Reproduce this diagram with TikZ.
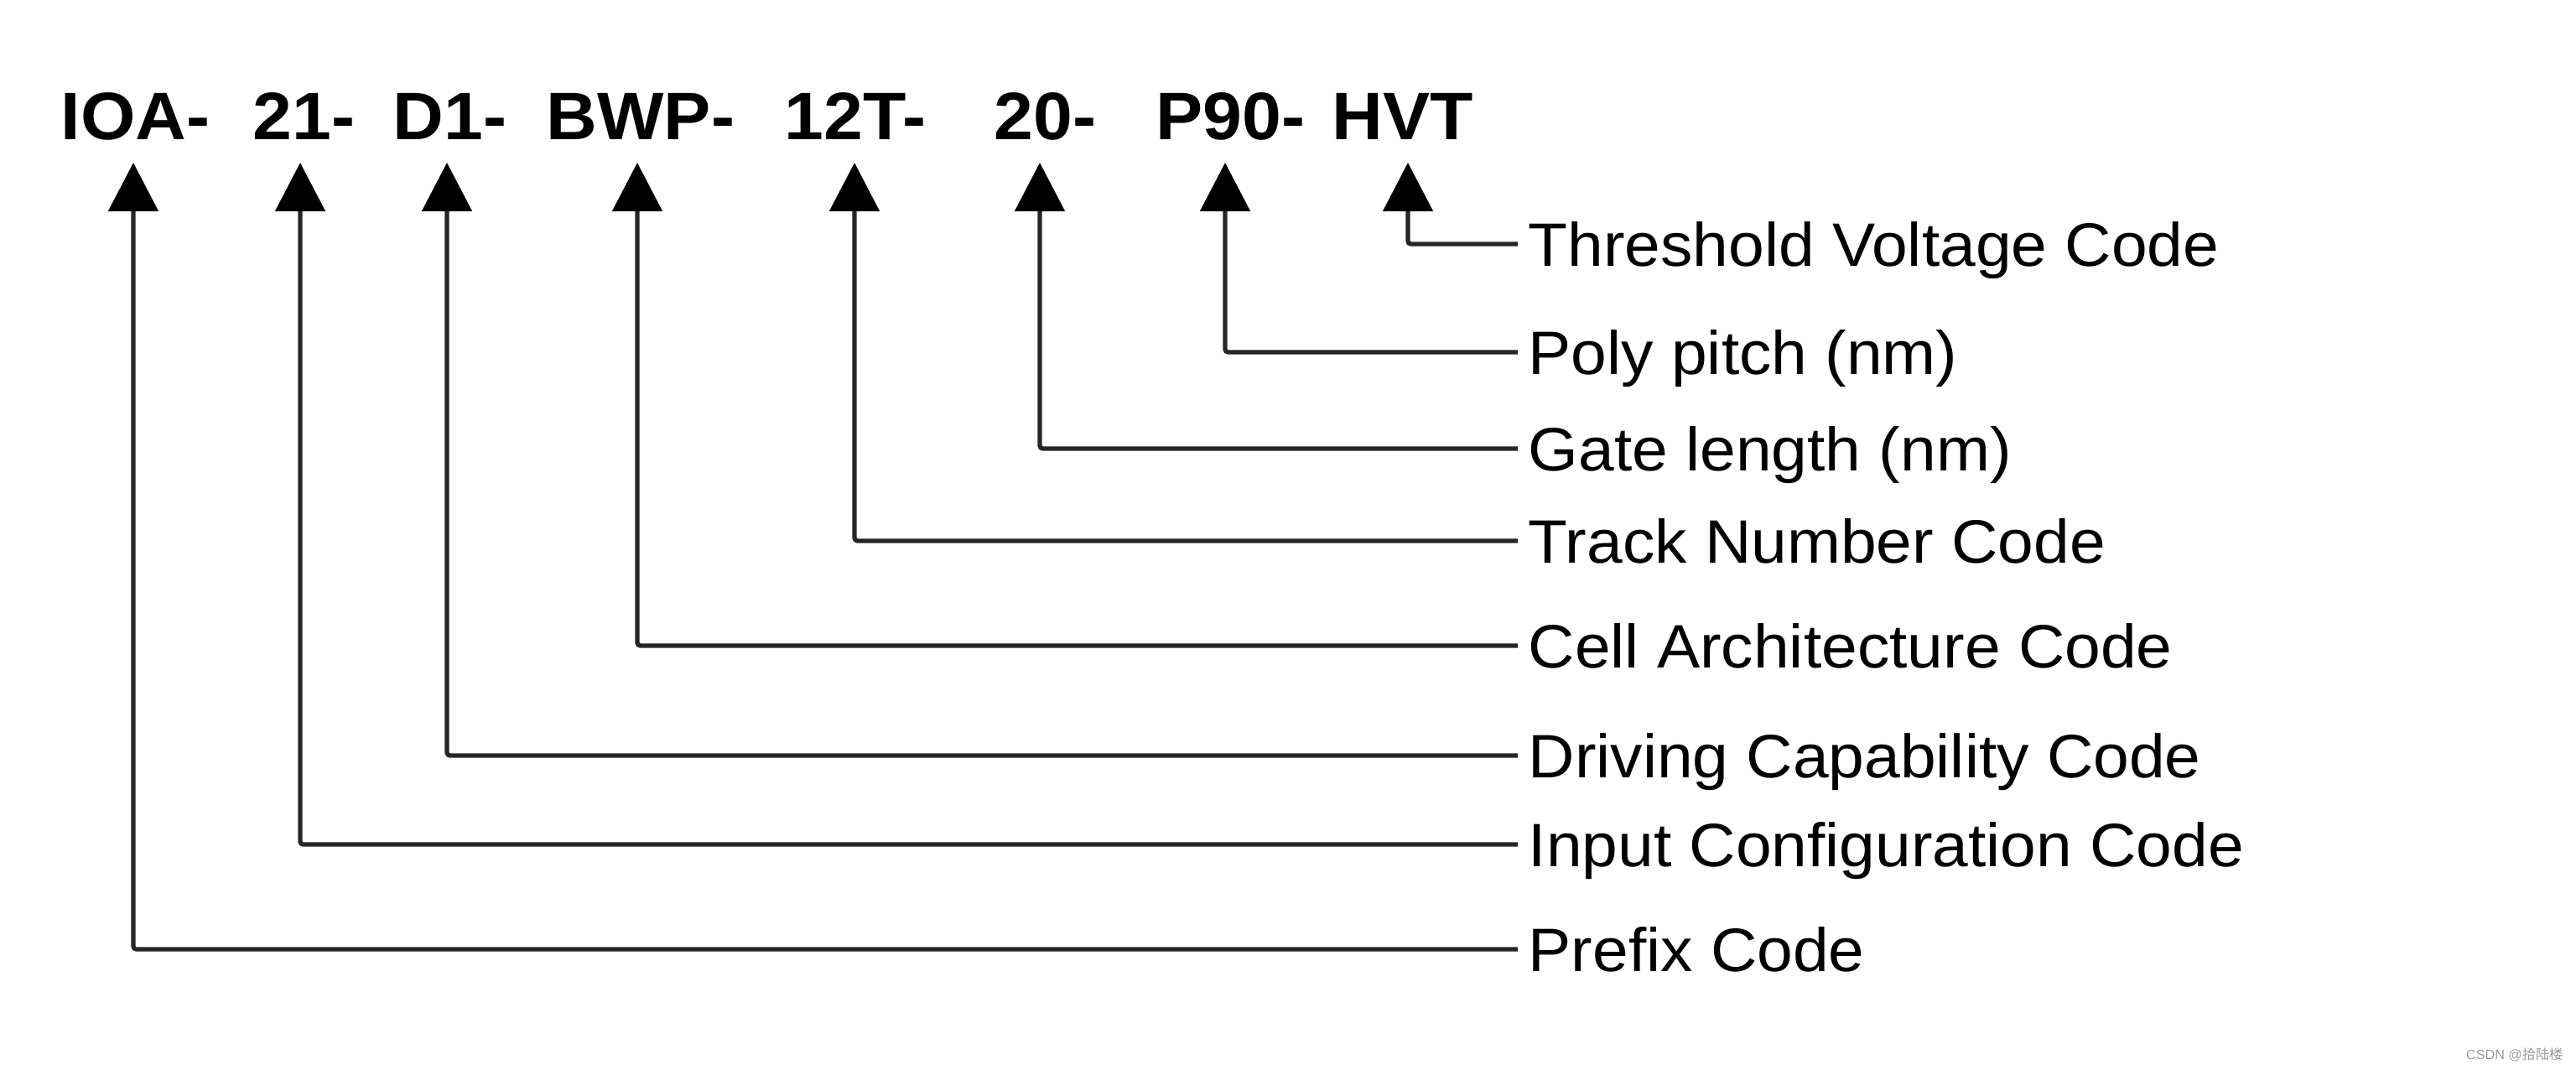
\documentclass[tikz,border=0pt]{standalone}
\usepackage{fontspec}
\setmainfont{Liberation Sans}
\newfontfamily\cjk{Noto Sans CJK SC}
\usetikzlibrary{arrows.meta}
\tikzset{
  code/.style={anchor=base west, inner sep=0pt, font=\fontsize{22.8}{27}\selectfont\bfseries},
  lbl/.style={anchor=west, inner sep=0pt, text height=0.52cm, text depth=0pt, font=\fontsize{20.8}{25}\selectfont},
  conn/.style={line width=1.5pt, draw=black!85, rounded corners=1pt,
    -{Triangle[width=0.59cm,length=0.58cm,color=black]}},
}
\newcommand{\sx}[1]{\scalebox{1.05}[1]{#1}}
\begin{document}
\begin{tikzpicture}
\useasboundingbox (0,0) rectangle (30.72,12.75);
% code tokens
\node[code] (IOA) at (0.72,11.08) {\sx{IOA-}};
\node[code] (c21) at (3.01,11.08) {\sx{21-}};
\node[code] (D1)  at (4.68,11.08) {\sx{D1-}};
\node[code] (BWP) at (6.51,11.08) {\sx{BWP-}};
\node[code] (c12T) at (9.35,11.08) {\sx{12T-}};
\node[code] (c20) at (11.85,11.08) {\sx{20-}};
\node[code] (P90) at (13.78,11.08) {\sx{P90-}};
\node[code] (HVT) at (15.88,11.08) {\sx{HVT}};
% arrow tips
\coordinate (tIOA) at (1.59,10.81);
\coordinate (t21)  at (3.58,10.81);
\coordinate (tD1)  at (5.33,10.81);
\coordinate (tBWP) at (7.60,10.81);
\coordinate (t12T) at (10.19,10.81);
\coordinate (t20)  at (12.40,10.81);
\coordinate (tP90) at (14.61,10.81);
\coordinate (tHVT) at (16.79,10.81);
% labels
\node[lbl] (lthr)  at (18.22,9.84) {\sx{Threshold Voltage Code}};
\node[lbl] (lpoly) at (18.22,8.55) {\sx{Poly pitch (nm)}};
\node[lbl] (lgate) at (18.22,7.40) {\sx{Gate length (nm)}};
\node[lbl] (ltrk)  at (18.22,6.30) {\sx{Track Number Code}};
\node[lbl] (lcell) at (18.22,5.05) {\sx{Cell Architecture Code}};
\node[lbl] (ldrv)  at (18.22,3.74) {\sx{Driving Capability Code}};
\node[lbl] (linp)  at (18.22,2.68) {\sx{Input Configuration Code}};
\node[lbl] (lpre)  at (18.22,1.43) {\sx{Prefix Code}};
% connectors
\draw[conn] ([xshift=-1.2mm]lthr.west)  -| (tHVT);
\draw[conn] ([xshift=-1.2mm]lpoly.west) -| (tP90);
\draw[conn] ([xshift=-1.2mm]lgate.west) -| (t20);
\draw[conn] ([xshift=-1.2mm]ltrk.west)  -| (t12T);
\draw[conn] ([xshift=-1.2mm]lcell.west) -| (tBWP);
\draw[conn] ([xshift=-1.2mm]ldrv.west)  -| (tD1);
\draw[conn] ([xshift=-1.2mm]linp.west)  -| (t21);
\draw[conn] ([xshift=-1.2mm]lpre.west)  -| (tIOA);
% watermark
\node[anchor=east, inner sep=0pt, text=black!40, font=\fontsize{4.6}{5}\selectfont] (wm) at (30.57,0.17) {CSDN @{\cjk 拾陆楼}};
\end{tikzpicture}
\end{document}
